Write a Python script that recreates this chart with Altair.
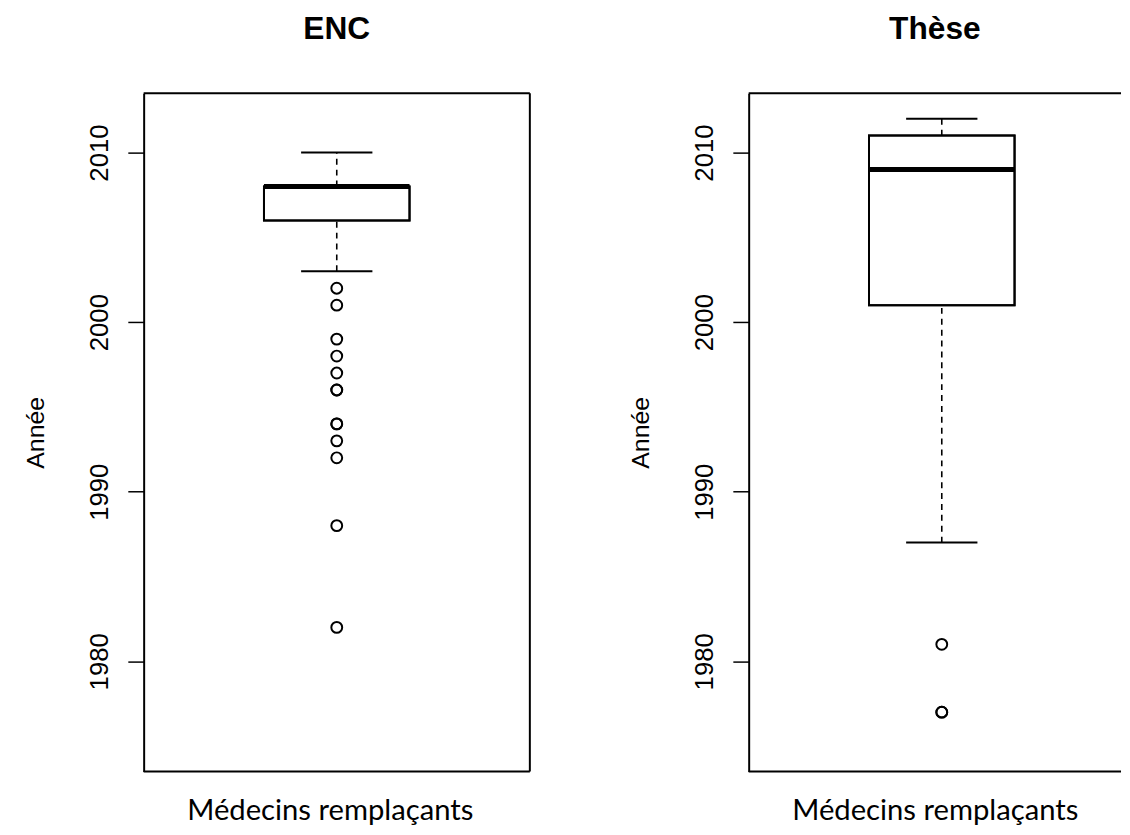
import altair as alt
import pandas as pd

# ---- data ----
groups = ["ENC", "Thèse"]
lower_whisker = [2003, 1987]
q1 = [2006, 2001]
median = [2008, 2009]
q3 = [2008, 2011]
upper_whisker = [2010, 2012]
outliers_enc = [2002, 2001, 1999, 1998, 1997, 1996, 1996, 1994, 1994, 1993, 1992, 1988, 1982]
outliers_these = [1981, 1977, 1977]
outliers = [outliers_enc, outliers_these]
y_ticks = [1980, 1990, 2000, 2010]
y_domain = [1973.5, 2013.5]
x_label = "Médecins remplaçants"
y_label = "Année"

PANEL_W = 390
PANEL_H = 685
BOX_HALF = 73.5 / PANEL_W
CAP_HALF = 36 / PANEL_W


def panel(i, width, full_frame):
    box = pd.DataFrame({
        "xc": [0.5], "x1": [0.5 - BOX_HALF], "x2": [0.5 + BOX_HALF],
        "c1": [0.5 - CAP_HALF], "c2": [0.5 + CAP_HALF],
        "lw": [lower_whisker[i]], "q1": [q1[i]], "med": [median[i]],
        "q3": [q3[i]], "uw": [upper_whisker[i]],
    })
    out = pd.DataFrame({"x": [0.5] * len(outliers[i]), "v": outliers[i]})

    xs = alt.Scale(domain=[0, width / PANEL_W], nice=False, zero=False)
    ys = alt.Scale(domain=y_domain, nice=False, zero=False)
    xaxis = alt.Axis(labels=False, ticks=False, domain=False, grid=False,
                     title=x_label, titleFont="Lato", titleFontSize=29.5,
                     titleFontWeight="normal", titlePadding=25, titleColor="black",
                     titleX=188, titleAlign="center")
    yaxis = alt.Axis(values=y_ticks, grid=False, title=y_label, format="d",
                     labelAngle=270, labelFont="Liberation Sans", labelFontSize=26,
                     labelColor="black", labelPadding=16, labelAlign="center",
                     labelBaseline="bottom",
                     tickSize=16, tickColor="black", tickWidth=1.5,
                     domainColor="black", domainWidth=2,
                     titleFont="Liberation Sans", titleFontSize=25,
                     titleFontWeight="normal", titleColor="black", titlePadding=38)

    base = alt.Chart(box)
    rect = base.mark_rect(fill="white", stroke="black", strokeWidth=2).encode(
        x=alt.X("x1:Q", scale=xs, axis=xaxis), x2="x2:Q",
        y=alt.Y("q1:Q", scale=ys, axis=yaxis), y2="q3:Q")
    upper = base.mark_rule(stroke="black", strokeWidth=1.6, strokeDash=[6, 5]).encode(
        x="xc:Q", y="q3:Q", y2="uw:Q")
    lower = base.mark_rule(stroke="black", strokeWidth=1.6, strokeDash=[6, 5]).encode(
        x="xc:Q", y="lw:Q", y2="q1:Q")
    cap_u = base.mark_rule(stroke="black", strokeWidth=2).encode(x="c1:Q", x2="c2:Q", y="uw:Q")
    cap_l = base.mark_rule(stroke="black", strokeWidth=2).encode(x="c1:Q", x2="c2:Q", y="lw:Q")
    box_again = base.mark_rect(fill=None, stroke="black", strokeWidth=2).encode(
        x="x1:Q", x2="x2:Q", y="q1:Q", y2="q3:Q")
    med = base.mark_rule(stroke="black", strokeWidth=5).encode(x="x1:Q", x2="x2:Q", y="med:Q")
    pts = alt.Chart(out).mark_point(shape="circle", filled=False, stroke="black",
                                    strokeWidth=2, size=120, opacity=1).encode(
        x="x:Q", y="v:Q")

    layers = [rect, upper, lower, cap_u, cap_l, box_again, med, pts]
    frame = alt.Chart(box).mark_rule(stroke="black", strokeWidth=2)
    layers += [
        frame.encode(x=alt.value(0), x2=alt.value(width), y=alt.value(0)),
        frame.encode(x=alt.value(0), x2=alt.value(width), y=alt.value(PANEL_H)),
    ]
    if full_frame:
        layers.append(frame.encode(x=alt.value(width), y=alt.value(0), y2=alt.value(PANEL_H)))

    ch = alt.layer(*layers).properties(
        width=width, height=PANEL_H,
        title=alt.TitleParams(groups[i], font="Liberation Sans", fontSize=32,
                              fontWeight="bold", color="black", offset=47,
                              anchor="middle"),
    )
    return ch


left = panel(0, PANEL_W, True)
right = panel(1, 376, False)

chart = alt.hconcat(left, right, spacing=98).properties(
    padding={"left": 15, "top": 1, "right": 0, "bottom": 0},
    background="white",
).configure_view(stroke=None)

chart.save("out.html", embed_options={"renderer": "svg", "actions": False})
